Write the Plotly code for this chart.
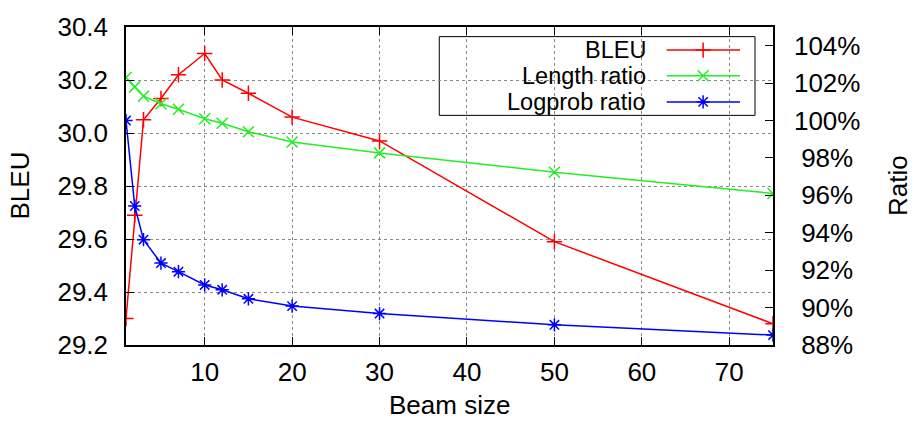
import plotly.graph_objects as go

# ---- data ----
beam_size = [1, 2, 3, 5, 7, 10, 12, 15, 20, 30, 50, 75]
bleu = [29.30, 29.69, 30.05, 30.13, 30.22, 30.30, 30.20, 30.15, 30.06, 29.97, 29.59, 29.28]
length_ratio = [102.3, 101.8, 101.3, 100.9, 100.6, 100.1, 99.85, 99.4, 98.85, 98.27, 97.24, 96.1]
logprob_ratio = [100.0, 95.43, 93.63, 92.38, 91.92, 91.21, 90.95, 90.47, 90.08, 89.68, 89.08, 88.53]

series_names = ["BLEU", "Length ratio", "Logprob ratio"]
series_colors = ["#ff0000", "#22ee22", "#0000ff"]
series_symbols = ["cross-thin-open", "x-thin-open", "asterisk-open"]

x_ticks = [10, 20, 30, 40, 50, 60, 70]
bleu_ticks = [29.2, 29.4, 29.6, 29.8, 30.0, 30.2, 30.4]
ratio_ticks = [88, 90, 92, 94, 96, 98, 100, 102, 104]

FONT = "Liberation Sans, Arial, Helvetica, sans-serif"
FS = 26
KEY_FS = 23.5

fig = go.Figure()

def marker(i):
    return dict(symbol=series_symbols[i], size=11, color=series_colors[i],
                line=dict(color=series_colors[i], width=1.5))

fig.add_trace(go.Scatter(x=beam_size, y=bleu, mode="lines+markers", name=series_names[0],
                         line=dict(color=series_colors[0], width=1.5), marker=marker(0),
                         yaxis="y", showlegend=False))
fig.add_trace(go.Scatter(x=beam_size, y=length_ratio, mode="lines+markers", name=series_names[1],
                         line=dict(color=series_colors[1], width=1.5), marker=marker(1),
                         yaxis="y2", showlegend=False))
fig.add_trace(go.Scatter(x=beam_size, y=logprob_ratio, mode="lines+markers", name=series_names[2],
                         line=dict(color=series_colors[2], width=1.5), marker=marker(2),
                         yaxis="y2", showlegend=False))

# ---- gnuplot-style key (legend) in paper-fraction coordinates ----
key_x0, key_x1, key_y0, key_y1 = 0.4842, 0.9722, 0.7221, 0.9697
row_y = [0.9273, 0.8464, 0.7645]
sample_x = [0.8357, 0.949]
sample_mid = 0.892
text_right = 0.8068

fig.add_shape(type="rect", xref="paper", yref="paper", x0=key_x0, x1=key_x1, y0=key_y0, y1=key_y1,
              line=dict(color="black", width=1), fillcolor="white", layer="between")
for i, name in enumerate(series_names):
    fig.add_trace(go.Scatter(x=sample_x, y=[row_y[i], row_y[i]], mode="lines",
                             line=dict(color=series_colors[i], width=1.5),
                             xaxis="x2", yaxis="y3", showlegend=False, hoverinfo="skip"))
    fig.add_trace(go.Scatter(x=[sample_mid], y=[row_y[i]], mode="markers", marker=marker(i),
                             xaxis="x2", yaxis="y3", showlegend=False, hoverinfo="skip"))
    fig.add_annotation(text=name, xref="paper", yref="paper", x=text_right, y=row_y[i],
                       xanchor="right", yanchor="middle", showarrow=False,
                       font=dict(family=FONT, size=KEY_FS, color="black"))

# ---- axis titles ----
fig.add_annotation(text="BLEU", xref="paper", yref="paper", x=-0.1646, y=0.5, textangle=-90,
                   xanchor="center", yanchor="middle", showarrow=False,
                   font=dict(family=FONT, size=FS, color="black"))
fig.add_annotation(text="Ratio", xref="paper", yref="paper", x=1.1932, y=0.5, textangle=-90,
                   xanchor="center", yanchor="middle", showarrow=False,
                   font=dict(family=FONT, size=FS, color="black"))
fig.add_annotation(text="Beam size", xref="paper", yref="paper", x=0.5, y=-0.1875,
                   xanchor="center", yanchor="middle", showarrow=False,
                   font=dict(family=FONT, size=FS, color="black"))

ratio_text = [("\u00a0" if v < 100 else "") + f"{v}%" for v in ratio_ticks]

fig.update_layout(
    width=914, height=422,
    margin=dict(l=126, r=141, t=15, b=77),
    paper_bgcolor="white", plot_bgcolor="white",
    font=dict(family=FONT, size=FS, color="black"),
    xaxis=dict(range=[1, 75], tickvals=x_ticks, ticks="inside", ticklen=8, tickcolor="black",
               showline=True, linecolor="black", linewidth=1.5, mirror="ticks",
               showgrid=True, gridcolor="#888888", griddash="dot", gridwidth=1,
               zeroline=False, ticklabelstandoff=3),
    yaxis=dict(range=[29.2, 30.4], tickvals=bleu_ticks, ticktext=[f"{v:.1f}" for v in bleu_ticks],
               ticks="inside", ticklen=8, tickcolor="black",
               showline=True, linecolor="black", linewidth=1.5, mirror=True,
               showgrid=True, gridcolor="#888888", griddash="dot", gridwidth=1,
               zeroline=False, ticklabelstandoff=11),
    yaxis2=dict(range=[88, 105], tickvals=ratio_ticks, ticktext=ratio_text,
                overlaying="y", side="right", ticks="inside", ticklen=8, tickcolor="black",
                showline=True, linecolor="black", linewidth=1.5,
                showgrid=False, zeroline=False, ticklabelstandoff=14),
    xaxis2=dict(range=[0, 1], overlaying="x", visible=False),
    yaxis3=dict(range=[0, 1], overlaying="y", visible=False),
    showlegend=False,
)

fig.write_html("out.html")
